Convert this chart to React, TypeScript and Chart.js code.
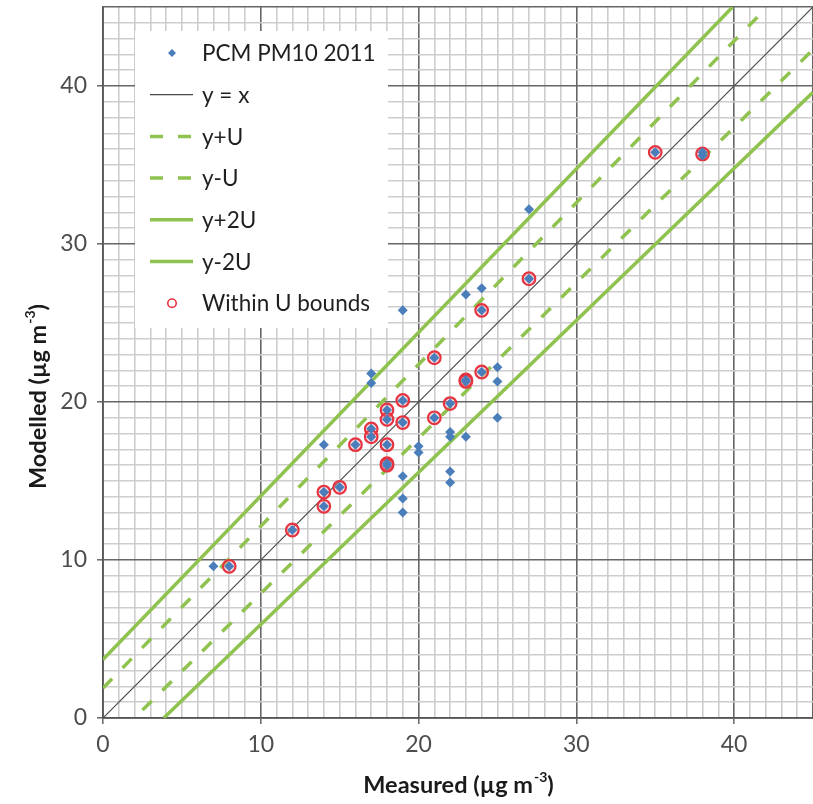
import React, { useEffect, useRef } from 'react';
import { Chart, registerables } from 'chart.js';

Chart.register(...registerables);

// ---- data ----
const measured = [7, 8, 12, 14, 14, 14, 15, 16, 17, 17, 17, 17, 18, 18, 18, 18, 18, 19, 19, 19, 19, 19, 19, 20, 20, 21, 21, 22, 22, 22, 22, 22, 23, 23, 23, 23, 24, 24, 24, 25, 25, 25, 27, 27, 35, 38, 38];
const modelled = [9.6, 9.6, 11.9, 17.3, 14.3, 13.4, 14.6, 17.3, 21.8, 21.2, 18.3, 17.8, 19.5, 18.9, 17.3, 16.1, 16.0, 25.8, 20.1, 18.7, 15.3, 13.9, 13.0, 17.2, 16.8, 22.8, 19.0, 19.9, 18.1, 17.8, 15.6, 14.9, 26.8, 21.4, 21.3, 17.8, 27.2, 25.8, 21.9, 22.2, 21.3, 19.0, 32.2, 27.8, 35.8, 35.8, 35.6];

const withinMeasured = [8, 12, 14, 14, 15, 16, 17, 17, 18, 18, 18, 18, 18, 19, 19, 21, 21, 22, 23, 23, 24, 24, 27, 35, 38];
const withinModelled = [9.6, 11.9, 14.3, 13.4, 14.6, 17.3, 18.3, 17.8, 19.5, 18.9, 17.3, 16.1, 16.0, 20.1, 18.7, 22.8, 19.0, 19.9, 21.4, 21.3, 25.8, 21.9, 27.8, 35.8, 35.7];

// reference lines (end points)
const yxX = [0, 45];
const yxY = [0, 45];
const yPlusUX = [0, 42.1];
const yPlusUY = [1.9, 45];
const yMinusUX = [2.5, 45];
const yMinusUY = [0.5, 42.3];
const yPlus2UX = [0, 39.9];
const yPlus2UY = [3.7, 45];
const yMinus2UX = [3.85, 45];
const yMinus2UY = [0, 39.6];

const xTickLabels = [0, 10, 20, 30, 40];
const yTickLabels = [0, 10, 20, 30, 40];
const axisMin = 0;
const axisMax = 45;

const seriesNames = ['PCM PM10 2011', 'y = x', 'y+U', 'y-U', 'y+2U', 'y-2U', 'Within U bounds'];

// ---- styles ----
const BLUE = '#4a7ebb';
const GREEN = '#90c24f';
const RED = '#e5343f';
const MAJOR = '#666666';
const MINOR = '#cdcdcd';
const FONT = 'Lato';

const zip = (xs: number[], ys: number[]) => xs.map((x, i) => ({ x, y: ys[i] }));

function drawTitle(ctx: CanvasRenderingContext2D, main: string, sup: string, tail: string, cx: number, cy: number, rot: number) {
  ctx.save();
  ctx.translate(cx, cy);
  ctx.rotate(rot);
  const f = `bold 23.5px ${FONT}`;
  const fs = `bold 14px ${FONT}`;
  ctx.font = f;
  const w1 = ctx.measureText(main).width;
  const w3 = ctx.measureText(tail).width;
  ctx.font = fs;
  const w2 = ctx.measureText(sup).width;
  let x = -(w1 + w2 + w3) / 2;
  ctx.fillStyle = '#1a1a1a';
  ctx.textBaseline = 'middle';
  ctx.textAlign = 'left';
  ctx.font = f;
  ctx.fillText(main, x, 0);
  x += w1;
  ctx.font = fs;
  ctx.fillText(sup, x + 1, -8);
  x += w2 + 1;
  ctx.font = f;
  ctx.fillText(tail, x, 0);
  ctx.restore();
}

const titlePlugin = {
  id: 'axisTitles',
  afterDraw(chart: any) {
    const ctx = chart.ctx as CanvasRenderingContext2D;
    drawTitle(ctx, 'Measured (\u00b5g m', '-3', ')', 458, 785, 0);
    drawTitle(ctx, 'Modelled (\u00b5g m', '-3', ')', 38, 397, -Math.PI / 2);
  },
};

const legendPlugin = {
  id: 'insideLegend',
  beforeDatasetsDraw(chart: any) {
    const ctx = chart.ctx as CanvasRenderingContext2D;
    const box = { x: 135, y: 31, w: 253, h: 297 };
    ctx.save();
    ctx.fillStyle = '#ffffff';
    ctx.fillRect(box.x, box.y, box.w, box.h);
    const ds = chart.data.datasets;
    const rowH = 41.7;
    ds.forEach((d: any, i: number) => {
      const cy = 53 + i * rowH;
      ctx.save();
      if (d.showLine) {
        ctx.strokeStyle = d.borderColor;
        ctx.lineWidth = d.borderWidth;
        ctx.setLineDash(d.borderDash || []);
        ctx.beginPath();
        ctx.moveTo(150, cy);
        ctx.lineTo(193, cy);
        ctx.stroke();
      } else if (d.pointStyle === 'rectRot') {
        ctx.fillStyle = d.backgroundColor;
        const r = 4;
        ctx.beginPath();
        ctx.moveTo(172, cy - r);
        ctx.lineTo(172 + r, cy);
        ctx.lineTo(172, cy + r);
        ctx.lineTo(172 - r, cy);
        ctx.closePath();
        ctx.fill();
      } else {
        ctx.strokeStyle = d.borderColor;
        ctx.lineWidth = 1.6;
        ctx.beginPath();
        ctx.arc(172, cy, 4.2, 0, Math.PI * 2);
        ctx.stroke();
      }
      ctx.restore();
      ctx.fillStyle = '#1f1f1f';
      ctx.font = `22.5px ${FONT}`;
      ctx.textBaseline = 'middle';
      ctx.textAlign = 'left';
      ctx.fillText(d.label, 202, cy + 1);
    });
    ctx.restore();
  },
};

const lineDs = (label: string, xs: number[], ys: number[], color: string, width: number, dash: number[], order: number) => ({
  type: 'scatter' as const,
  label,
  data: zip(xs, ys),
  showLine: true,
  borderColor: color,
  backgroundColor: color,
  borderWidth: width,
  borderDash: dash,
  borderCapStyle: 'butt',
  pointRadius: 0,
  pointHoverRadius: 0,
  order,
});

const isMajor = (v: number) => v % 10 === 0 || v === axisMax;

function scaleOpts(labels: number[], isX: boolean) {
  return {
    type: 'linear' as const,
    min: axisMin,
    max: axisMax,
    afterFit: (s: any) => {
      if (isX) s.height = 86;
      else s.width = 103;
      s.paddingTop = 0;
      s.paddingBottom = 0;
      s.paddingLeft = 0;
      s.paddingRight = 0;
    },
    ticks: {
      stepSize: 1,
      autoSkip: false,
      maxRotation: 0,
      color: '#4d4d4d',
      font: { family: FONT, size: 23 },
      padding: isX ? 7 : 10,
      callback: (v: any) => (labels.includes(Number(v)) ? String(v) : ''),
    },
    grid: {
      color: (c: any) => (isMajor(c.tick ? c.tick.value : 0) ? MAJOR : MINOR),
      lineWidth: 1.6,
      tickLength: 6,
      tickColor: (c: any) => (c.tick && c.tick.value % 10 === 0 ? MAJOR : 'rgba(0,0,0,0)'),
      tickWidth: 1.5,
      drawTicks: true,
    },
    border: { display: true, color: '#555555', width: 1.8 },
    title: { display: false },
  };
}

export default function App() {
  const ref = useRef<HTMLCanvasElement>(null);
  useEffect(() => {
    if (!ref.current) return;
    const chart = new Chart(ref.current, {
      type: 'scatter',
      data: {
        datasets: [
          {
            label: seriesNames[0],
            data: zip(measured, modelled),
            pointStyle: 'rectRot',
            pointRadius: 5,
            pointHoverRadius: 5,
            backgroundColor: BLUE,
            borderColor: BLUE,
            borderWidth: 0,
            showLine: false,
            order: 0,
          },
          lineDs(seriesNames[1], yxX, yxY, '#4a4a4a', 1.2, [], 3),
          lineDs(seriesNames[2], yPlusUX, yPlusUY, GREEN, 3.5, [13, 15], 4),
          lineDs(seriesNames[3], yMinusUX, yMinusUY, GREEN, 3.5, [13, 15], 4),
          lineDs(seriesNames[4], yPlus2UX, yPlus2UY, GREEN, 3.5, [], 4),
          lineDs(seriesNames[5], yMinus2UX, yMinus2UY, GREEN, 3.5, [], 4),
          {
            label: seriesNames[6],
            data: zip(withinMeasured, withinModelled),
            pointStyle: 'circle',
            pointRadius: 6.3,
            pointHoverRadius: 6.3,
            backgroundColor: 'rgba(240,150,165,0.35)',
            borderColor: RED,
            borderWidth: 2.2,
            showLine: false,
            order: 1,
          },
        ] as any,
      },
      options: {
        responsive: false,
        animation: false,
        devicePixelRatio: 1,
        layout: { autoPadding: false, padding: { top: 7, right: 0, left: 0, bottom: 0 } },
        plugins: {
          legend: { display: false },
          tooltip: { enabled: false },
          title: { display: false },
        },
        scales: {
          x: scaleOpts(xTickLabels, true) as any,
          y: scaleOpts(yTickLabels, false) as any,
        },
      },
      plugins: [legendPlugin, titlePlugin],
    });
    return () => chart.destroy();
  }, []);
  return (
    <div style={{ position: 'absolute', left: 0, top: 0, width: 813, height: 804, background: '#fff' }}>
      <canvas ref={ref} width={813} height={804} style={{ display: 'block', width: 813, height: 804 }} />
    </div>
  );
}
